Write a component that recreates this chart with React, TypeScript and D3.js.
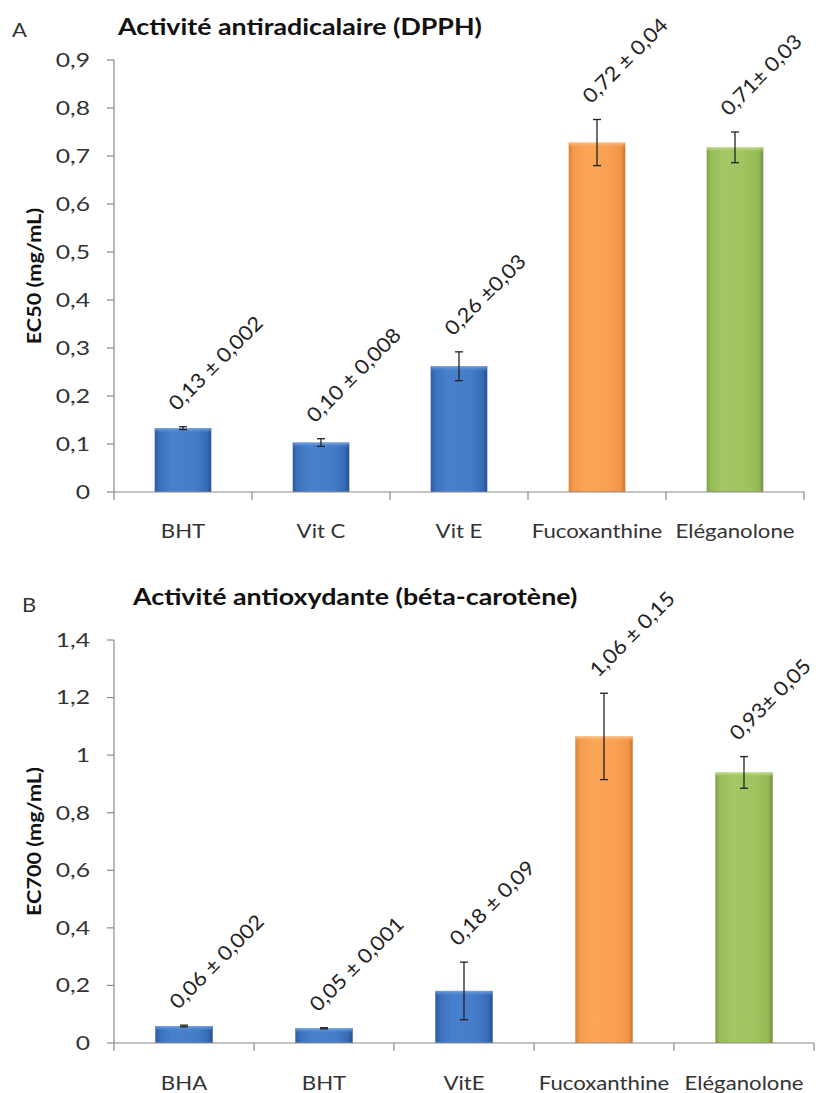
import React from "react";
import * as d3 from "d3";

const catsA = ["BHT", "Vit C", "Vit E", "Fucoxanthine", "Eléganolone"];
const valsA = [0.133, 0.103, 0.262, 0.728, 0.718];
const errA = [0.003, 0.008, 0.03, 0.048, 0.032];
const labelsA = ["0,13 ± 0,002", "0,10 ± 0,008", "0,26 ±0,03", "0,72 ± 0,04", "0,71± 0,03"];
const ticksA = [0, 0.1, 0.2, 0.3, 0.4, 0.5, 0.6, 0.7, 0.8, 0.9];
const tickLabelsA = ["0", "0,1", "0,2", "0,3", "0,4", "0,5", "0,6", "0,7", "0,8", "0,9"];

const catsB = ["BHA", "BHT", "VitE", "Fucoxanthine", "Eléganolone"];
const valsB = [0.059, 0.051, 0.181, 1.065, 0.94];
const errB = [0.003, 0.002, 0.1, 0.15, 0.055];
const labelsB = ["0,06 ± 0,002", "0,05 ± 0,001", "0,18 ± 0,09", "1,06 ± 0,15", "0,93± 0,05"];
const ticksB = [0, 0.2, 0.4, 0.6, 0.8, 1, 1.2, 1.4];
const tickLabelsB = ["0", "0,2", "0,4", "0,6", "0,8", "1", "1,2", "1,4"];

const barKinds = ["blue", "blue", "blue", "orange", "green"];

const FONT = "Lato, 'Open Sans', sans-serif";

type PanelProps = {
  letter: string;
  letterX: number;
  letterY: number;
  title: string;
  titleX: number;
  titleY: number;
  yTitle: string;
  cats: string[];
  vals: number[];
  errs: number[];
  labels: string[];
  ticks: number[];
  tickLabels: string[];
  yMax: number;
  x0: number;
  x1: number;
  yTop: number;
  yBottom: number;
  catBaseline: number;
};

function Panel(p: PanelProps) {
  const x = d3.scaleBand<string>().domain(p.cats).range([p.x0, p.x1]).paddingInner(0).paddingOuter(0);
  const y = d3.scaleLinear().domain([0, p.yMax]).range([p.yBottom, p.yTop]);
  const bw = x.bandwidth() * 0.41;
  const axisColor = "#8a8a8a";
  const yMid = (p.yTop + p.yBottom) / 2;
  return (
    <g>
      <text transform={`translate(${p.letterX},${p.letterY}) scale(1.1,1)`} fontFamily={FONT} fontSize={20} fill="#333">{p.letter}</text>
      <text transform={`translate(${p.titleX},${p.titleY}) scale(1.14,1)`} fontFamily={FONT} fontSize={23.5} fontWeight="bold" fill="#111">{p.title}</text>
      <text transform={`translate(41,${yMid}) rotate(-90) scale(1.2,1)`} textAnchor="middle" fontFamily={FONT} fontSize={18} fontWeight="bold" fill="#111">{p.yTitle}</text>
      {/* y axis */}
      <line x1={p.x0} x2={p.x0} y1={y(p.yMax)} y2={y(0)} stroke={axisColor} strokeWidth={1.2} />
      {p.ticks.map((t, i) => (
        <g key={"t" + i}>
          <line x1={p.x0 - 7} x2={p.x0} y1={y(t)} y2={y(t)} stroke={axisColor} strokeWidth={1.2} />
          <text transform={`translate(90,${y(t)}) scale(1.3,1)`} dy="0.36em" textAnchor="end" fontFamily={FONT} fontSize={19} fill="#333">{p.tickLabels[i]}</text>
        </g>
      ))}
      {/* bars */}
      {p.cats.map((c, i) => {
        const cx = (x(c) as number) + x.bandwidth() / 2;
        const top = y(p.vals[i]);
        const h = y(0) - top;
        const kind = barKinds[i];
        return (
          <g key={"b" + i}>
            <rect x={cx - bw / 2} y={top} width={bw} height={h} fill={`url(#grad-${kind})`} />
            <rect x={cx - bw / 2} y={top} width={bw} height={Math.min(5, h)} fill={`url(#top-${kind})`} />
          </g>
        );
      })}
      {/* x axis */}
      <line x1={p.x0} x2={p.x1} y1={y(0)} y2={y(0)} stroke={axisColor} strokeWidth={1.2} />
      {[...p.cats.map((c) => x(c) as number), p.x1].map((bx, i) => (
        <line key={"xt" + i} x1={bx} x2={bx} y1={y(0)} y2={y(0) + 8} stroke={axisColor} strokeWidth={1.2} />
      ))}
      {/* error bars */}
      {p.cats.map((c, i) => {
        const cx = (x(c) as number) + x.bandwidth() / 2;
        const hi = y(p.vals[i] + p.errs[i]);
        const lo = y(p.vals[i] - p.errs[i]);
        return (
          <g key={"e" + i} stroke="#222" strokeWidth={1.3}>
            <line x1={cx} x2={cx} y1={hi} y2={lo} />
            <line x1={cx - 4} x2={cx + 4} y1={hi} y2={hi} />
            <line x1={cx - 4} x2={cx + 4} y1={lo} y2={lo} />
          </g>
        );
      })}
      {/* value labels */}
      {p.cats.map((c, i) => {
        const cx = (x(c) as number) + x.bandwidth() / 2;
        const hi = y(p.vals[i] + p.errs[i]);
        return (
          <text key={"l" + i} transform={`translate(${cx - 6},${hi - 15}) rotate(-45) scale(1.1,1)`} fontFamily={FONT} fontSize={20} fill="#222">{p.labels[i]}</text>
        );
      })}
      {/* category labels */}
      {p.cats.map((c, i) => (
        <text key={"c" + i} transform={`translate(${(x(c) as number) + x.bandwidth() / 2},${p.catBaseline}) scale(1.2,1)`} textAnchor="middle" fontFamily={FONT} fontSize={18.5} fill="#333">{c}</text>
      ))}
    </g>
  );
}

export default function App() {
  return (
    <svg width={822} height={1093} style={{ position: "absolute", left: 0, top: 0, background: "#fff" }}>
      <defs>
        <linearGradient id="grad-blue" x1="0" x2="1" y1="0" y2="0">
          <stop offset="0" stopColor="#2c5a9c" />
          <stop offset="0.08" stopColor="#3c70bd" />
          <stop offset="0.3" stopColor="#4880cd" />
          <stop offset="0.7" stopColor="#467dca" />
          <stop offset="0.92" stopColor="#386bb5" />
          <stop offset="1" stopColor="#26508c" />
        </linearGradient>
        <linearGradient id="top-blue" x1="0" x2="0" y1="0" y2="1">
          <stop offset="0" stopColor="#7aa6e0" />
          <stop offset="1" stopColor="#4a82cf" stopOpacity="0" />
        </linearGradient>
        <linearGradient id="grad-orange" x1="0" x2="1" y1="0" y2="0">
          <stop offset="0" stopColor="#d97f34" />
          <stop offset="0.08" stopColor="#f59a4b" />
          <stop offset="0.3" stopColor="#fba658" />
          <stop offset="0.7" stopColor="#f9a052" />
          <stop offset="0.92" stopColor="#f39549" />
          <stop offset="1" stopColor="#c9742e" />
        </linearGradient>
        <linearGradient id="top-orange" x1="0" x2="0" y1="0" y2="1">
          <stop offset="0" stopColor="#fcc48e" />
          <stop offset="1" stopColor="#f9a052" stopOpacity="0" />
        </linearGradient>
        <linearGradient id="grad-green" x1="0" x2="1" y1="0" y2="0">
          <stop offset="0" stopColor="#809f46" />
          <stop offset="0.08" stopColor="#98bd58" />
          <stop offset="0.3" stopColor="#a3c764" />
          <stop offset="0.7" stopColor="#9fc35e" />
          <stop offset="0.92" stopColor="#95b956" />
          <stop offset="1" stopColor="#738f3e" />
        </linearGradient>
        <linearGradient id="top-green" x1="0" x2="0" y1="0" y2="1">
          <stop offset="0" stopColor="#c6df95" />
          <stop offset="1" stopColor="#9fc35e" stopOpacity="0" />
        </linearGradient>
      </defs>
      <Panel
        letter="A" letterX={12} letterY={37}
        title="Activité antiradicalaire (DPPH)" titleX={118} titleY={35}
        yTitle="EC50 (mg/mL)"
        cats={catsA} vals={valsA} errs={errA} labels={labelsA}
        ticks={ticksA} tickLabels={tickLabelsA} yMax={0.9}
        x0={114} x1={804} yTop={60} yBottom={492} catBaseline={538}
      />
      <Panel
        letter="B" letterX={22} letterY={612}
        title="Activité antioxydante (béta-carotène)" titleX={133} titleY={605}
        yTitle="EC700 (mg/mL)"
        cats={catsB} vals={valsB} errs={errB} labels={labelsB}
        ticks={ticksB} tickLabels={tickLabelsB} yMax={1.4}
        x0={114} x1={814} yTop={640} yBottom={1043} catBaseline={1090}
      />
    </svg>
  );
}
